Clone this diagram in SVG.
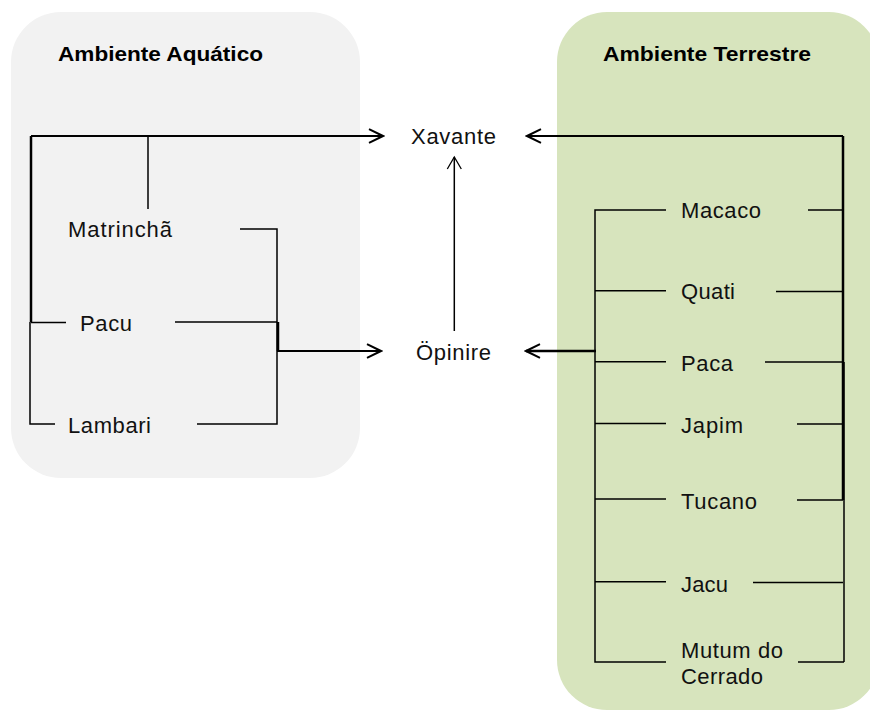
<svg xmlns="http://www.w3.org/2000/svg" width="870" height="711" viewBox="0 0 870 711">
<defs>
<marker id="arr" markerUnits="userSpaceOnUse" viewBox="-2 -9 18 18" markerWidth="18" markerHeight="18" refX="14" refY="0" orient="auto">
<path d="M0,-6.8 L14,0 L0,6.8" fill="none" stroke="#000" stroke-width="2"/>
</marker>
<marker id="arrs" markerUnits="userSpaceOnUse" viewBox="-2 -9 16 18" markerWidth="16" markerHeight="18" refX="12" refY="0" orient="auto">
<path d="M0,-7 L12,0 L0,7" fill="none" stroke="#000" stroke-width="1.3"/>
</marker>
</defs>
<style>
.lbl{font-family:"Liberation Sans",Arial,sans-serif;font-size:22px;fill:#111}
.ttl{font-family:"Liberation Sans",Arial,sans-serif;font-size:21px;font-weight:bold;fill:#000}
.ln{fill:none;stroke:#000;stroke-width:1.5}
.thk{fill:none;stroke:#000;stroke-width:2.5}
.med{fill:none;stroke:#000;stroke-width:2}
</style>
<rect width="870" height="711" fill="#fff"/>
<g id="aquatico">
<rect x="11" y="12" width="349" height="466" rx="50" ry="50" fill="#f2f2f2"/>
<text class="ttl" x="58" y="61" textLength="205" lengthAdjust="spacingAndGlyphs">Ambiente Aquático</text>
</g>
<g id="terrestre">
<rect x="557" y="12" width="322" height="698" rx="50" ry="50" fill="#d7e4bd"/>
<text class="ttl" x="603" y="61" textLength="208" lengthAdjust="spacingAndGlyphs">Ambiente Terrestre</text>
</g>
<g id="connectors">
<path class="thk" d="M31,136 V322"/>
<path class="ln" d="M30,322 V424 H55"/>
<path class="ln" d="M31,322.5 H66"/>
<path class="med" d="M31,136 H383" marker-end="url(#arr)"/>
<path class="ln" d="M148,136 V209"/>
<path class="ln" d="M240,229 H277 V424 H197"/>
<path class="ln" d="M175,322 H277"/>
<path class="thk" d="M278,322 V351"/>
<path class="med" d="M277,351 H381" marker-end="url(#arr)"/>
<path class="ln" d="M454.3,331 V157" marker-end="url(#arrs)"/>
<path class="med" d="M843,136 H527" marker-end="url(#arr)"/>
<path class="thk" d="M843,136 V500"/>
<path class="ln" d="M844,362 V662"/>
<path class="ln" d="M808,210 H843"/>
<path class="ln" d="M776,291.5 H843"/>
<path class="ln" d="M765,362 H843"/>
<path class="ln" d="M797,424 H843"/>
<path class="ln" d="M797,500 H843"/>
<path class="ln" d="M753,582.5 H843"/>
<path class="ln" d="M798,662 H844"/>
<path class="ln" d="M666,210 H595 V662 H666"/>
<path class="ln" d="M595,290.7 H666"/>
<path class="ln" d="M595,361.7 H666"/>
<path class="ln" d="M595,423.5 H666"/>
<path class="ln" d="M595,499 H666"/>
<path class="ln" d="M595,581.7 H666"/>
<path class="med" d="M596,351 H526" marker-end="url(#arr)" style="stroke-width:2.5"/>
</g>
<g id="xavante"><text class="lbl" x="411" y="144" textLength="85">Xavante</text></g>
<g id="opinire"><text class="lbl" x="416" y="360" textLength="75">Öpinire</text></g>
<g id="matrincha"><text class="lbl" x="68" y="237" textLength="104">Matrinchã</text></g>
<g id="pacu"><text class="lbl" x="80" y="331" textLength="52">Pacu</text></g>
<g id="lambari"><text class="lbl" x="68" y="433" textLength="83">Lambari</text></g>
<g id="macaco"><text class="lbl" x="681" y="218" textLength="80">Macaco</text></g>
<g id="quati"><text class="lbl" x="681" y="299" textLength="54">Quati</text></g>
<g id="paca"><text class="lbl" x="681" y="370.5" textLength="52">Paca</text></g>
<g id="japim"><text class="lbl" x="681" y="433" textLength="62">Japim</text></g>
<g id="tucano"><text class="lbl" x="681" y="509" textLength="76">Tucano</text></g>
<g id="jacu"><text class="lbl" x="681" y="591.5" textLength="47">Jacu</text></g>
<g id="mutum"><text class="lbl" x="681" y="658"><tspan x="681" textLength="102">Mutum do</tspan><tspan x="681" y="684" textLength="82">Cerrado</tspan></text></g>
</svg>
